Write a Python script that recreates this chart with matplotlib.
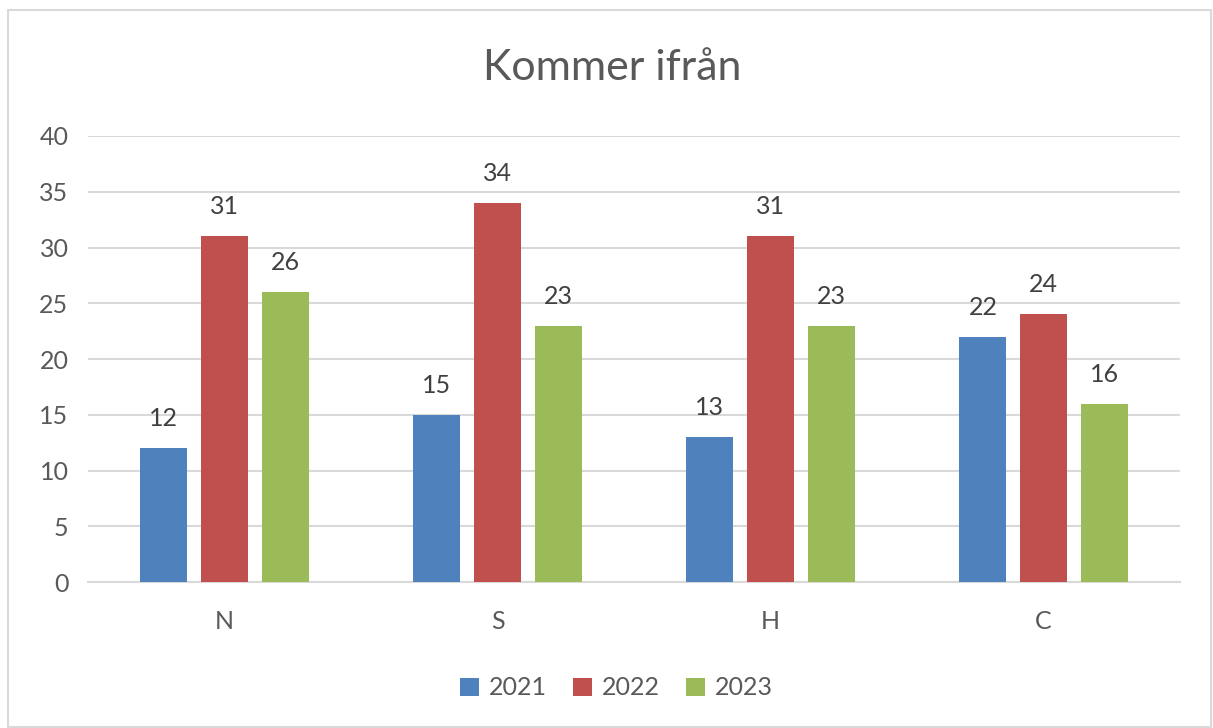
import matplotlib.pyplot as plt
from matplotlib.patches import Rectangle

plt.rcParams['font.family'] = ['Lato', 'DejaVu Sans']

categories = ['N', 'S', 'H', 'C']
years = ['2021', '2022', '2023']
values_2021 = [12, 15, 13, 22]
values_2022 = [31, 34, 31, 24]
values_2023 = [26, 23, 23, 16]
colors = ['#4F81BD', '#C0504D', '#9BBB59']
text_color = '#595959'
grid_color = '#d9d9d9'

fig = plt.figure(figsize=(12.13, 7.28), dpi=100)
ax = fig.add_axes([0.0725, 0.2005, 0.9003, 0.6127])

# chart border
fig.patches.append(Rectangle((8 / 1213, 0.002), 1203 / 1213, 1 - 10 / 728 - 0.002,
                             transform=fig.transFigure, fill=False,
                             edgecolor=grid_color, linewidth=1.5))

width = 0.172
offsets = [-0.222, 0, 0.222]
series = [values_2021, values_2022, values_2023]
for vals, off, col, yr in zip(series, offsets, colors, years):
    xs = [i + off for i in range(len(categories))]
    bars = ax.bar(xs, vals, width, color=col, label=yr, zorder=3)
    ax.bar_label(bars, padding=13, fontsize=18, color='#404040')

ax.set_xlim(-0.5, 3.5)
ax.set_ylim(0, 40)
ax.set_yticks(range(0, 41, 5))
ax.set_xticks(range(len(categories)))
ax.set_xticklabels(categories)
ax.grid(axis='y', color=grid_color, linewidth=1.5, zorder=0)
for s in ['top', 'right', 'left']:
    ax.spines[s].set_visible(False)
ax.spines['bottom'].set_color(grid_color)
ax.spines['bottom'].set_linewidth(1.5)
ax.tick_params(axis='both', length=0, labelsize=18, labelcolor=text_color)
ax.tick_params(axis='y', pad=14)
ax.tick_params(axis='x', pad=20)

fig.text(0.505, 0.907, 'Kommer ifrån', ha='center', va='center',
         fontsize=31, color=text_color)

fig.legend(loc='center', bbox_to_anchor=(0.508, 0.055), ncol=3, frameon=False,
           fontsize=18, handlelength=0.75, handleheight=0.75, handletextpad=0.4,
           columnspacing=1.05, labelcolor=text_color)

fig.savefig('out.png', dpi=100)
